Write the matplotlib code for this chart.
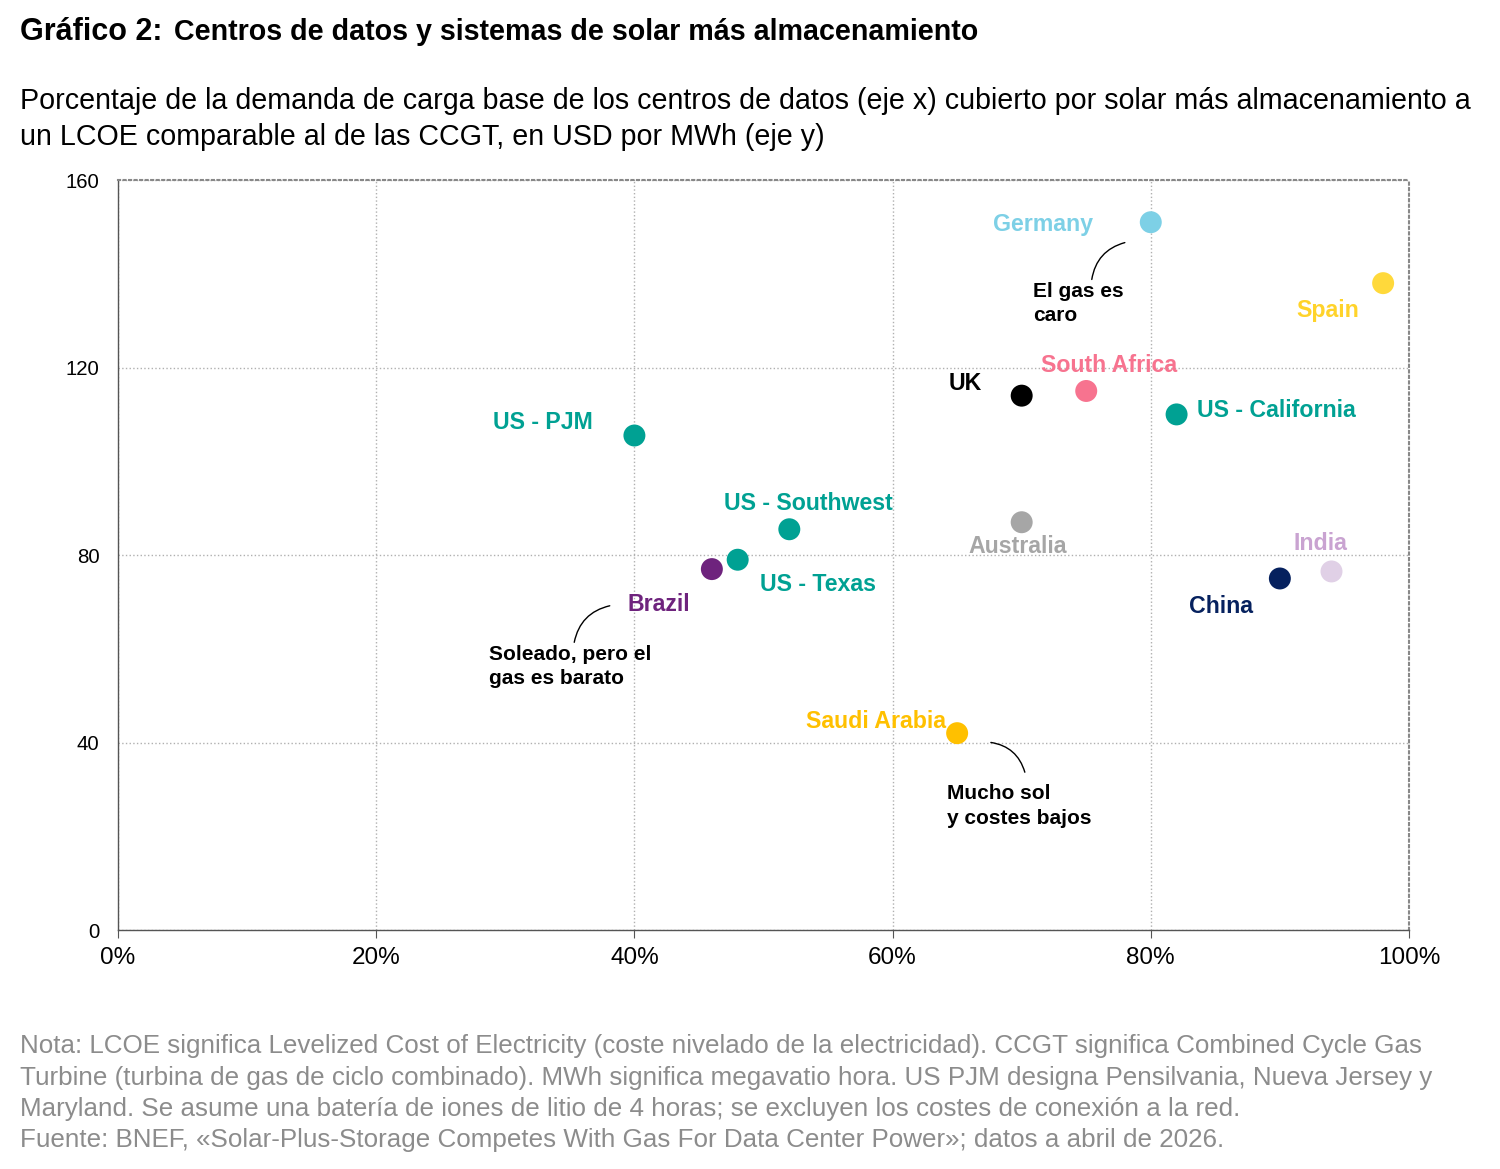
import matplotlib
matplotlib.use("Agg")
from matplotlib import pyplot as plt

plt.rcParams['font.family'] = ['Liberation Sans', 'DejaVu Sans']

# data
countries = ["Germany", "Spain", "UK", "South Africa", "US - California", "US - PJM",
             "US - Southwest", "Australia", "Brazil", "US - Texas", "China", "India",
             "Saudi Arabia"]
coverage = [80, 98, 70, 75, 82, 40, 52, 70, 46, 48, 90, 94, 65]
lcoe = [151, 138, 114, 115, 110, 105.5, 85.5, 87, 77, 79, 75, 76.5, 42]
x_ticks = [0, 20, 40, 60, 80, 100]
x_tick_labels = ["0%", "20%", "40%", "60%", "80%", "100%"]
y_ticks = [0, 40, 80, 120, 160]

teal = "#00A193"
point_colors = ["#7DD0E6", "#FFD93B", "#000000", "#F7738F", teal, teal, teal,
                "#A6A6A6", "#6E237D", teal, "#06215E", "#E0D0E6", "#FFC000"]
label_colors = ["#7DD0E6", "#FFD32A", "#000000", "#F7738F", teal, teal, teal,
                "#A6A6A6", "#6E237D", teal, "#06215E", "#C9A3D1", "#FFC000"]
# label offsets in pixels from the point, and alignment
label_pos = {
    "Germany": (-58, -2, "right"),
    "Spain": (-24, -27, "right"),
    "UK": (-40, 12, "right"),
    "South Africa": (-45, 25, "left"),
    "US - California": (20, 4, "left"),
    "US - PJM": (-42, 13, "right"),
    "US - Southwest": (19, 26, "center"),
    "Australia": (-4, -24, "center"),
    "Brazil": (-84, -35, "left"),
    "US - Texas": (22, -25, "left"),
    "China": (-27, -28, "right"),
    "India": (16, 28, "right"),
    "Saudi Arabia": (-11, 12, "right"),
}

fig = plt.figure(figsize=(15, 11.69), dpi=100)
ax = fig.add_axes([0.0787, 0.2044, 0.8606, 0.6416])

ax.scatter(coverage, lcoe, s=250, c=point_colors, zorder=3, linewidths=0)

for i, name in enumerate(countries):
    dx, dy, ha = label_pos[name]
    ax.annotate(name, (coverage[i], lcoe[i]), xytext=(dx, dy), textcoords="offset pixels",
                ha=ha, va="center", fontsize=16.7, fontweight="bold", color=label_colors[i],
                zorder=4)

# commentary with curved leader lines
ax.annotate("", xy=(75.4, 138.2), xytext=(78.2, 146.8),
            arrowprops=dict(arrowstyle="-", color="black", lw=1,
                            connectionstyle="arc3,rad=0.35"))
ax.text(70.9, 138.3, "El gas es\ncaro", fontsize=15, fontweight="bold",
        va="top", ha="left", linespacing=1.35)

ax.annotate("", xy=(35.3, 60.8), xytext=(38.3, 69.3),
            arrowprops=dict(arrowstyle="-", color="black", lw=1,
                            connectionstyle="arc3,rad=0.35"))
ax.text(28.7, 60.9, "Soleado, pero el\ngas es barato", fontsize=15, fontweight="bold",
        va="top", ha="left", linespacing=1.35)

ax.annotate("", xy=(70.3, 33.1), xytext=(67.4, 40.1),
            arrowprops=dict(arrowstyle="-", color="black", lw=1,
                            connectionstyle="arc3,rad=-0.35"))
ax.text(64.2, 31.1, "Mucho sol\ny costes bajos", fontsize=15, fontweight="bold",
        va="top", ha="left", linespacing=1.35)

ax.set_xlim(0, 100)
ax.set_ylim(0, 160)
ax.set_xticks(x_ticks)
ax.set_xticklabels(x_tick_labels, fontsize=17.5)
ax.set_yticks(y_ticks)
ax.tick_params(axis="y", labelsize=14.7, length=0, pad=13.5)
ax.tick_params(axis="x", length=6, color="#555555", pad=6)
ax.grid(True, color="#b0b0b0", linestyle=":", linewidth=1)
ax.set_axisbelow(True)
for side in ["left", "bottom"]:
    ax.spines[side].set_color("#555555")
    ax.spines[side].set_linewidth(1)
for side in ["top", "right"]:
    ax.spines[side].set_color("#888888")
    ax.spines[side].set_linestyle(":")
    ax.spines[side].set_linewidth(1.5)

t1 = fig.text(0.0133, 0.9658, "Gráfico 2:", fontsize=22, fontweight="bold", va="baseline")
renderer = fig.canvas.get_renderer()
bb = t1.get_window_extent(renderer)
fig.text((bb.x1 + 12) / fig.bbox.width, 0.9658,
         "Centros de datos y sistemas de solar más almacenamiento",
         fontsize=20.6, fontweight="bold", va="baseline")
fig.text(0.0133, 0.876,
         "Porcentaje de la demanda de carga base de los centros de datos (eje x) cubierto por solar más almacenamiento a\n"
         "un LCOE comparable al de las CCGT, en USD por MWh (eje y)",
         fontsize=20.65, va="baseline", linespacing=1.38)

nota = ("Nota: LCOE significa Levelized Cost of Electricity (coste nivelado de la electricidad). CCGT significa Combined Cycle Gas\n"
        "Turbine (turbina de gas de ciclo combinado). MWh significa megavatio hora. US PJM designa Pensilvania, Nueva Jersey y\n"
        "Maryland. Se asume una batería de iones de litio de 4 horas; se excluyen los costes de conexión a la red.\n"
        "Fuente: BNEF, «Solar-Plus-Storage Competes With Gas For Data Center Power»; datos a abril de 2026.")
fig.text(0.0133, 0.0188, nota, fontsize=18.7, color="#8c8c8c", va="baseline", linespacing=1.38)

fig.savefig("out.png", dpi=100)
